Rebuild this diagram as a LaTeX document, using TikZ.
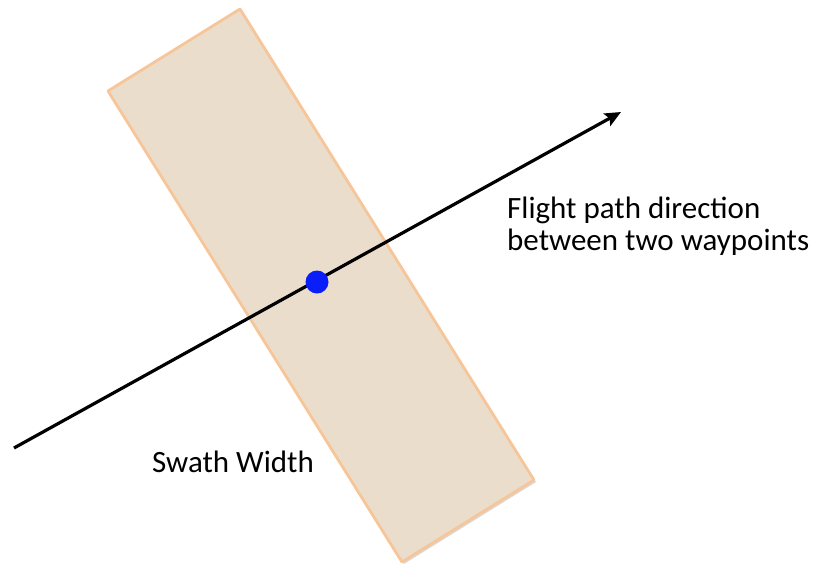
\documentclass[tikz,border=0pt]{standalone}
\usepackage{fontspec}
\setmainfont{Carlito}
\usetikzlibrary{arrows.meta}
\definecolor{swathfill}{RGB}{235,221,204}
\definecolor{swathedge}{RGB}{246,198,152}
\definecolor{dotblue}{RGB}{10,30,250}
\tikzset{
  swath/.style={fill=swathfill, draw=swathedge, line width=2.8pt, line join=round},
  flight/.style={draw=black, line width=3.2pt, -{Stealth[length=16pt,width=14pt,inset=3pt]}},
  lbl/.style={font=\fontsize{31}{32}\selectfont, align=left, inner sep=0pt}
}
\begin{document}
\begin{tikzpicture}[x=1pt,y=-1pt]
\useasboundingbox (0,0) rectangle (820,566);
\coordinate (tl) at (108,91);
\coordinate (tr) at (240,9);
\coordinate (br) at (534,480);
\coordinate (bl) at (402,562);
\fill[black!15] ([shift={(2,2)}]tl) -- ([shift={(2,2)}]tr) -- ([shift={(2,2)}]br) -- ([shift={(2,2)}]bl) -- cycle;
\draw[swath] (tl) -- (tr) -- (br) -- (bl) -- cycle;
\coordinate (start) at (14,448);
\coordinate (end) at (621,112);
\draw[flight] (start) -- (end);
\node[circle, fill=dotblue, inner sep=0pt, minimum size=23pt] (dot) at (317,282) {};
\node[lbl, anchor=base west] (fp) at (507,250) {Flight path direction\\between two waypoints};
\node[lbl, anchor=base west] (sw) at (152,472) {Swath Width};
\end{tikzpicture}
\end{document}
